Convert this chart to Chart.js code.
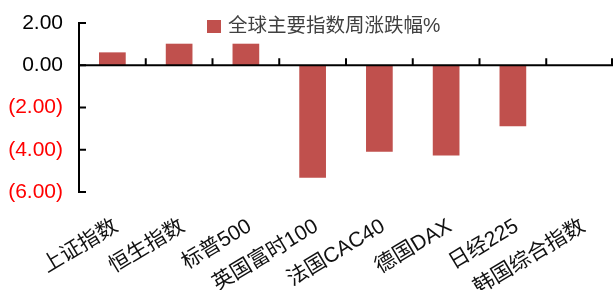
<!DOCTYPE html>
<html>
<head>
<meta charset="utf-8">
<script src="https://cdn.jsdelivr.net/npm/chart.js@4"></script>
<style>
html,body{margin:0;padding:0;background:#fff;}
#wrap{width:613px;height:290px;position:relative;}
</style>
</head>
<body>
<div id="wrap"><canvas id="c" width="613" height="290"></canvas></div>
<script>
const categories = ['上证指数','恒生指数','标普500','英国富时100','法国CAC40','德国DAX','日经225','韩国综合指数'];
const weeklyChange = [0.61, 1.02, 1.02, -5.33, -4.09, -4.27, -2.89, 0];
const seriesName = '全球主要指数周涨跌幅%';
const yTicks = [2, 0, -2, -4, -6];

const FONT = '"Liberation Sans", Arial, "Noto Sans CJK SC", sans-serif';

const axesPlugin = {
  id: 'axesPlugin',
  afterDatasetsDraw(chart) {
    const {ctx, chartArea, scales} = chart;
    const x = scales.x, y = scales.y;
    ctx.save();
    ctx.strokeStyle = '#000';
    ctx.lineWidth = 2;
    ctx.lineCap = 'butt';
    const ax = chartArea.left;
    ctx.beginPath();
    ctx.moveTo(ax, y.getPixelForValue(2) - 1);
    ctx.lineTo(ax, y.getPixelForValue(-6) + 1);
    ctx.stroke();
    yTicks.forEach(v => {
      const py = y.getPixelForValue(v);
      ctx.beginPath();
      ctx.moveTo(ax - 1, py);
      ctx.lineTo(ax + 7, py);
      ctx.stroke();
    });
    const zy = y.getPixelForValue(0);
    ctx.beginPath();
    ctx.moveTo(ax, zy);
    ctx.lineTo(chartArea.right, zy);
    ctx.stroke();
    const n = categories.length;
    for (let i = 1; i <= n; i++) {
      let px;
      if (i < n) px = (x.getPixelForValue(i - 1) + x.getPixelForValue(i)) / 2;
      else px = chartArea.right - 1;
      ctx.beginPath();
      ctx.moveTo(px, zy);
      ctx.lineTo(px, zy - 7);
      ctx.stroke();
    }
    ctx.restore();

    const ds = chart.data.datasets[0];
    ctx.save();
    ctx.fillStyle = ds.backgroundColor;
    ctx.fillRect(207, 20, 14, 13);
    ctx.fillStyle = '#404040';
    ctx.font = '19.5px ' + FONT;
    ctx.textBaseline = 'middle';
    ctx.textAlign = 'left';
    ctx.fillText(ds.label, 228, 27);
    ctx.restore();
  }
};

new Chart(document.getElementById('c'), {
  type: 'bar',
  data: {
    labels: categories,
    datasets: [{
      label: seriesName,
      data: weeklyChange,
      backgroundColor: '#C0504D',
      borderWidth: 0,
      barPercentage: 0.4,
      categoryPercentage: 1.0
    }]
  },
  options: {
    responsive: false,
    animation: false,
    devicePixelRatio: 1,
    layout: { padding: { top: 23, right: 0, bottom: 0, left: 0 } },
    plugins: {
      legend: { display: false },
      tooltip: { enabled: false }
    },
    scales: {
      x: {
        grid: { display: false, drawTicks: false },
        border: { display: false },
        ticks: {
          color: '#111',
          font: { size: 21, family: FONT },
          minRotation: 31,
          maxRotation: 31,
          autoSkip: false,
          padding: 22,
          labelOffset: 4
        },
        afterFit(s) { s.height = 98; s.paddingLeft = 0; s.paddingRight = 0; }
      },
      y: {
        min: -6,
        max: 2,
        grid: { display: false, drawTicks: false },
        border: { display: false },
        ticks: {
          stepSize: 2,
          padding: 16,
          font: { size: 21, family: FONT },
          color: (c) => (c.tick && c.tick.value < 0) ? '#FF0000' : '#000',
          callback: (v) => v < 0 ? '(' + Math.abs(v).toFixed(2) + ')' : v.toFixed(2)
        },
        afterFit(s) { s.width = 79; s.paddingTop = 0; s.paddingBottom = 0; }
      }
    }
  },
  plugins: [axesPlugin]
});
</script>
</body>
</html>
